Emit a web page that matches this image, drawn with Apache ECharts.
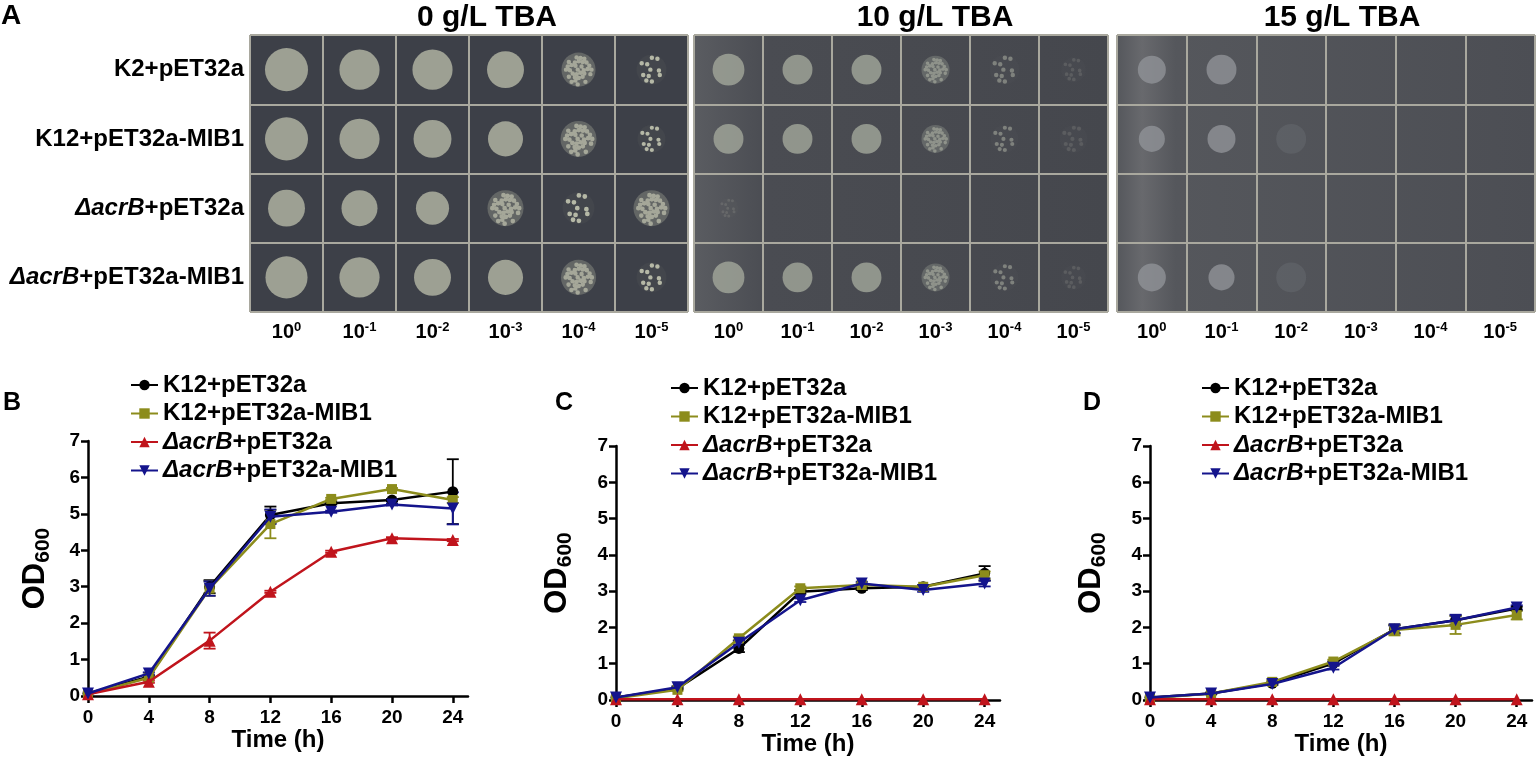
<!DOCTYPE html>
<html lang="en">
<head>
    <meta charset="UTF-8">
    <title>TBA tolerance</title>
    <script src="https://cdn.jsdelivr.net/npm/echarts@6/dist/echarts.min.js"></script>
    <style>
        body { margin: 0; background: #fff; }
        #main { width: 1536px; height: 762px; }
    </style>
</head>
<body>
<div id="main"></div>
<script>
    // ---- panel A: spot assay ----
    var dilutions = ['0', '-1', '-2', '-3', '-4', '-5'];
    var strains = ['K2+pET32a', 'K12+pET32a-MIB1', 'ΔacrB+pET32a', 'ΔacrB+pET32a-MIB1'];
    var plateTitles = ['0 g/L TBA', '10 g/L TBA', '15 g/L TBA'];
    // spot spread per cell (row = strain, col = dilution)
    var growth0 = [
        [0.97, 0.88, 0.88, 0.78, 0.69, 0.56],
        [0.97, 0.88, 0.81, 0.72, 0.75, 0.50],
        [0.78, 0.75, 0.66, 0.75, 0.62, 0.75],
        [0.94, 0.88, 0.78, 0.72, 0.72, 0.56]
    ];
    var growth10 = [
        [0.62, 0.56, 0.56, 0.50, 0.56, 0.40],
        [0.56, 0.56, 0.56, 0.50, 0.50, 0.50],
        [0.25, 0, 0, 0, 0, 0],
        [0.62, 0.56, 0.56, 0.50, 0.50, 0.40]
    ];
    var growth15 = [
        [0.50, 0.56, 0, 0, 0, 0],
        [0.44, 0.50, 0.56, 0, 0, 0],
        [0, 0, 0, 0, 0, 0],
        [0.50, 0.44, 0.56, 0, 0, 0]
    ];
    // spot look: s = confluent, g = dense colonies, p = sparse colonies, f = faint haze
    var form0 = ['ssssgp', 'ssssgp', 'sssgpg', 'ssssgp'];
    var form10 = ['sssgpp', 'sssgpp', 'pxxxxx', 'sssgpp'];
    var form15 = ['ssxxxx', 'ssfxxx', 'xxxxxx', 'ssfxxx'];

    // ---- panels B-D: growth curves ----
    var hours = [0, 4, 8, 12, 16, 20, 24];
    var names = ['K12+pET32a', 'K12+pET32a-MIB1', 'ΔacrB+pET32a', 'ΔacrB+pET32a-MIB1'];

    var odB = [
        [0.07, 0.53, 3.00, 4.97, 5.29, 5.38, 5.61],
        [0.05, 0.50, 2.95, 4.72, 5.41, 5.68, 5.38],
        [0.05, 0.39, 1.52, 2.86, 3.96, 4.33, 4.28],
        [0.07, 0.62, 2.95, 4.92, 5.06, 5.26, 5.15]
    ];
    var errB = [
        [0, 0.03, 0.18, 0.23, 0.03, 0.03, 0.89],
        [0, 0.03, 0.20, 0.39, 0.03, 0.03, 0.08],
        [0, 0.03, 0.22, 0.03, 0.03, 0.03, 0.03],
        [0, 0.03, 0.20, 0.20, 0.03, 0.03, 0.44]
    ];
    var odC = [
        [0.07, 0.32, 1.42, 2.98, 3.08, 3.12, 3.49],
        [0.05, 0.28, 1.70, 3.08, 3.17, 3.12, 3.44],
        [0.02, 0.02, 0.02, 0.02, 0.02, 0.02, 0.02],
        [0.07, 0.35, 1.58, 2.75, 3.21, 3.03, 3.21]
    ];
    var errC = [
        [0, 0.03, 0.10, 0.05, 0.05, 0.05, 0.20],
        [0, 0.03, 0.05, 0.05, 0.05, 0.05, 0.10],
        [0, 0, 0, 0, 0, 0, 0],
        [0, 0.03, 0.05, 0.05, 0.05, 0.05, 0.08]
    ];
    var odD = [
        [0.07, 0.18, 0.46, 1.01, 1.95, 2.20, 2.52],
        [0.05, 0.18, 0.50, 1.06, 1.93, 2.07, 2.34],
        [0.02, 0.02, 0.02, 0.02, 0.02, 0.02, 0.02],
        [0.07, 0.18, 0.44, 0.89, 1.95, 2.20, 2.55]
    ];
    var errD = [
        [0, 0.02, 0.03, 0.05, 0.12, 0.12, 0.05],
        [0, 0.02, 0.05, 0.05, 0.15, 0.25, 0.12],
        [0, 0, 0, 0, 0, 0, 0],
        [0, 0.02, 0.03, 0.05, 0.10, 0.15, 0.06]
    ];

    var FONT = 'Liberation Sans, Arial, sans-serif';
    var colors = ['#000000', '#8c8c1c', '#c0141c', '#14148c'];
    var symbols = ['circle', 'rect', 'triangle', 'triangle'];
    var symbolSizes = [11, 10, 12, 12];
    var symbolRotates = [0, 0, 0, 180];

    var chart = echarts.init(document.getElementById('main'));

    var grids = [], xAxes = [], yAxes = [], series = [], legends = [];

    function rgba(hex, a) {
        var n = parseInt(hex.slice(1), 16);
        return 'rgba(' + (n >> 16) + ',' + ((n >> 8) & 255) + ',' + (n & 255) + ',' + a + ')';
    }

    // colony-cluster glyph: small discs packed inside a unit circle
    function colonyGlyph(step, r, skip) {
        var d = '';
        for (var j = -6; j <= 6; j++) {
            for (var i = -6; i <= 6; i++) {
                var x = i * step + (j % 2 ? step / 2 : 0) + ((i * 3 + j * 5 + 40) % 4 - 1.5) * step * 0.12;
                var y = j * step * 0.87 + ((i * 7 + j * 2 + 40) % 3 - 1) * step * 0.15;
                if (x * x + y * y > (1 - r) * (1 - r)) continue;
                if (skip && ((i * 5 + j * 3 + 40) % 7) < skip) continue;
                d += 'M' + (x - r).toFixed(3) + ' ' + y.toFixed(3) +
                    'a' + r + ' ' + r + ' 0 1 0 ' + (2 * r) + ' 0' +
                    'a' + r + ' ' + r + ' 0 1 0 ' + (-2 * r) + ' 0Z';
            }
        }
        // corners keep the glyph bounding box square
        return 'path://M-1 -1h0.001v0.001h-0.001ZM1 1h-0.001v-0.001h0.001Z' + d;
    }
    var denseGlyph = colonyGlyph(0.26, 0.13, 1);
    var sparseGlyph = colonyGlyph(0.42, 0.15, 3);

    // plates
    var plates = [
        {g: growth0, f: form0, left: 250, width: 438, bg: '#3d4048', spot: '#b5b8a6'},
        {g: growth10, f: form10, left: 694, width: 414,
            bg: {type: 'linear', x: 0, y: 0, x2: 1, y2: 0, colorStops: [
                {offset: 0, color: '#5a5c61'}, {offset: 0.18, color: '#4a4c52'}, {offset: 1, color: '#45474d'}]},
            spot: '#a3a79b'},
        {g: growth15, f: form15, left: 1117, width: 418,
            bg: {type: 'linear', x: 0, y: 0, x2: 1, y2: 0, colorStops: [
                {offset: 0, color: '#55575c'}, {offset: 0.06, color: '#68696d'}, {offset: 0.14, color: '#55575c'}, {offset: 1, color: '#4c4e54'}]},
            spot: '#909297'}
    ];

    var spotSize = function (val) { return 12 + 32 * val[2]; };

    plates.forEach(function (p, k) {
        grids.push({left: p.left, top: 35, width: p.width, height: 277, show: true,
            backgroundColor: p.bg, borderWidth: 0, outerBoundsMode: 'none'});
        xAxes.push({
            type: 'category', gridIndex: k, data: dilutions, position: 'bottom',
            axisLine: {show: false}, axisTick: {show: false},
            splitLine: {show: true, interval: 0, lineStyle: {color: '#a9a89e', width: 2}},
            axisLabel: {
                margin: 9, interval: 0, color: '#000',
                formatter: function (v) { return '{b|10}{s|' + v + '}'; },
                rich: {
                    b: {fontFamily: FONT, fontWeight: 'bold', fontSize: 20, lineHeight: 22, color: '#000'},
                    s: {fontFamily: FONT, fontWeight: 'bold', fontSize: 13, lineHeight: 13, verticalAlign: 'top', color: '#000'}
                }
            }
        });
        yAxes.push({
            type: 'category', gridIndex: k, data: strains, inverse: true,
            axisLine: {show: false}, axisTick: {show: false},
            splitLine: {show: true, interval: 0, lineStyle: {color: '#a9a89e', width: 2}},
            axisLabel: {
                show: k === 0, margin: 6, color: '#000', interval: 0,
                fontFamily: FONT, fontWeight: 'bold', fontSize: 24,
                formatter: function (v) {
                    if (v.indexOf('ΔacrB') === 0) return '{i|ΔacrB}{n|' + v.slice(5) + '}';
                    return '{n|' + v + '}';
                },
                rich: {
                    i: {fontFamily: FONT, fontWeight: 'bold', fontStyle: 'italic', fontSize: 24, color: '#000'},
                    n: {fontFamily: FONT, fontWeight: 'bold', fontSize: 24, color: '#000'}
                }
            }
        });
        var base = [], dense = [], sparse = [];
        p.g.forEach(function (row, r) {
            row.forEach(function (v, c) {
                if (!(v > 0)) return;
                var form = p.f[r].charAt(c);
                var a = {s: 1, g: 0.4, p: k === 0 ? 0.06 : 0.03, f: 0.22}[form];
                base.push({value: [c, r, v], itemStyle: {color: rgba(p.spot, a)}});
                if (form === 'g') dense.push([c, r, v]);
                if (form === 'p') sparse.push({value: [c, r, v],
                    itemStyle: {opacity: (k > 0 && c === 5) || (k > 0 && r === 2) ? 0.35 : 1}});
            });
        });
        series.push({
            type: 'scatter', xAxisIndex: k, yAxisIndex: k, data: base,
            symbolSize: spotSize, itemStyle: {color: p.spot}, silent: true
        });
        series.push({
            type: 'scatter', xAxisIndex: k, yAxisIndex: k, data: dense,
            symbol: denseGlyph, symbolKeepAspect: true, symbolSize: spotSize,
            itemStyle: {color: k === 0 ? p.spot : rgba(p.spot, 0.85)}, silent: true
        });
        series.push({
            type: 'scatter', xAxisIndex: k, yAxisIndex: k, data: sparse,
            symbol: sparseGlyph, symbolKeepAspect: true, symbolSize: spotSize,
            itemStyle: {color: k === 0 ? p.spot : rgba(p.spot, 0.6)}, silent: true
        });
    });

    // growth curve panels
    var panels = [
        {od: odB, err: errB, left: 88, top: 441, width: 380, height: 255, legendLeft: 125, legendTop: 368, nameGap: 34},
        {od: odC, err: errC, left: 616, top: 446, width: 384, height: 254, legendLeft: 665, legendTop: 371, nameGap: 40},
        {od: odD, err: errD, left: 1150, top: 446, width: 382, height: 254, legendLeft: 1196, legendTop: 371, nameGap: 40}
    ];

    function errRender(params, api) {
        var x = api.value(0), lo = api.value(1), hi = api.value(2);
        var a = api.coord([x, hi]), b = api.coord([x, lo]);
        var col = api.visual('color');
        var st = {stroke: col, lineWidth: 1.8};
        var w = 6;
        return {type: 'group', children: [
            {type: 'line', shape: {x1: a[0], y1: a[1], x2: b[0], y2: b[1]}, style: st},
            {type: 'line', shape: {x1: a[0] - w, y1: a[1], x2: a[0] + w, y2: a[1]}, style: st},
            {type: 'line', shape: {x1: b[0] - w, y1: b[1], x2: b[0] + w, y2: b[1]}, style: st}
        ]};
    }

    var tickVals = [0, 4, 8, 12, 16, 20, 24];

    panels.forEach(function (p, j) {
        var gi = 3 + j;
        grids.push({left: p.left, top: p.top, width: p.width, height: p.height, outerBoundsMode: 'none'});
        xAxes.push({
            type: 'value', gridIndex: gi, min: 0, max: 25,
            name: 'Time (h)', nameLocation: 'middle', nameGap: 31,
            nameTextStyle: {fontFamily: FONT, fontWeight: 'bold', fontSize: 24, color: '#000'},
            axisLine: {lineStyle: {color: '#000', width: 2.5}},
            axisTick: {customValues: tickVals, length: 7, lineStyle: {color: '#000', width: 2.5}},
            axisLabel: {customValues: tickVals, margin: 12, fontFamily: FONT, fontWeight: 'bold', fontSize: 19, color: '#000'},
            splitLine: {show: false}
        });
        yAxes.push({
            type: 'value', gridIndex: gi, min: 0, max: 7, interval: 1,
            name: '{a|OD}{b|600}', nameLocation: 'middle', nameRotate: 90, nameGap: p.nameGap,
            nameTextStyle: {
                rich: {
                    a: {fontFamily: FONT, fontWeight: 'bold', fontSize: 31, lineHeight: 38, color: '#000'},
                    b: {fontFamily: FONT, fontWeight: 'bold', fontSize: 21, lineHeight: 22, verticalAlign: 'bottom', color: '#000'}
                }
            },
            axisLine: {show: true, lineStyle: {color: '#000', width: 2.5}},
            axisTick: {show: true, length: 7, lineStyle: {color: '#000', width: 2.5}},
            axisLabel: {margin: 8, fontFamily: FONT, fontWeight: 'bold', fontSize: 19, color: '#000'},
            splitLine: {show: false}
        });
        // error bars
        p.od.forEach(function (vals, s) {
            var eb = [];
            vals.forEach(function (v, i) {
                if (p.err[s][i] > 0) eb.push([hours[i], v - p.err[s][i], v + p.err[s][i]]);
            });
            series.push({
                type: 'custom', xAxisIndex: gi, yAxisIndex: gi, renderItem: errRender,
                data: eb, itemStyle: {color: colors[s]}, z: 1, silent: true
            });
        });
        p.od.forEach(function (vals, s) {
            series.push({
                name: names[s], type: 'line', xAxisIndex: gi, yAxisIndex: gi,
                data: vals.map(function (v, i) { return [hours[i], v]; }),
                symbol: symbols[s], symbolSize: symbolSizes[s], symbolRotate: symbolRotates[s],
                lineStyle: {color: colors[s], width: 2.5},
                itemStyle: {color: colors[s]}, z: 3 + s
            });
        });
        legends.push({
            orient: 'vertical', left: p.legendLeft, top: p.legendTop,
            data: names, itemWidth: 27, itemHeight: 13, itemGap: 4.5,
            symbolRotate: 'inherit', selectedMode: false,
            formatter: function (n) {
                if (n.indexOf('ΔacrB') === 0) return '{i|ΔacrB}{n|' + n.slice(5) + '}';
                return '{n|' + n + '}';
            },
            textStyle: {
                fontFamily: FONT, fontWeight: 'bold', fontSize: 24, lineHeight: 24, color: '#000',
                rich: {
                    i: {fontFamily: FONT, fontWeight: 'bold', fontStyle: 'italic', fontSize: 24, color: '#000'},
                    n: {fontFamily: FONT, fontWeight: 'bold', fontSize: 24, color: '#000'}
                }
            }
        });
    });

    var textItem = function (t, x, y, size, align) {
        return {type: 'text', x: x, y: y, silent: true,
            style: {text: t, fontFamily: FONT, fontWeight: 'bold', fontSize: size, fill: '#000',
                textAlign: align || 'left', textVerticalAlign: 'middle'}};
    };

    chart.setOption({
        animation: false,
        backgroundColor: '#fff',
        grid: grids,
        xAxis: xAxes,
        yAxis: yAxes,
        legend: legends,
        series: series,
        graphic: [
            textItem('A', 1, 16, 28),
            textItem(plateTitles[0], 487, 18, 30, 'center'),
            textItem(plateTitles[1], 935, 18, 30, 'center'),
            textItem(plateTitles[2], 1342, 18, 30, 'center'),
            textItem('B', 3, 403, 25),
            textItem('C', 555, 403, 25),
            textItem('D', 1083, 403, 25)
        ]
    });
</script>
</body>
</html>
